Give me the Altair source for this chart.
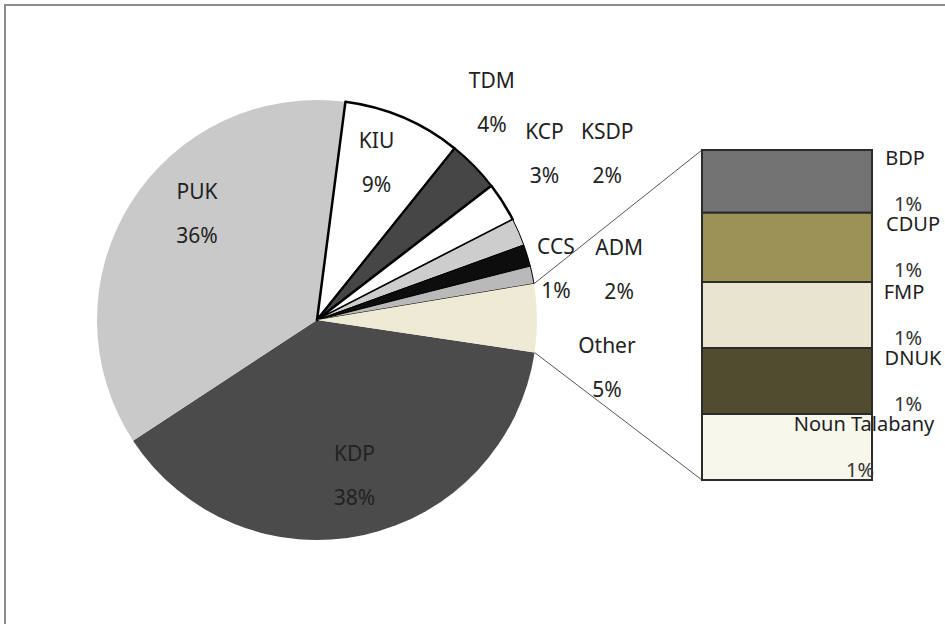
import math
import altair as alt
import pandas as pd

# ---------------- data ----------------
PIE_PARTIES = ["KDP", "PUK", "KIU", "TDM", "KCP", "KSDP", "ADM", "CCS", "Other"]
PIE_VALUES = [38.4, 36.3, 8.7, 3.8, 2.9, 2.0, 1.6, 1.3]          # "Other" = sum of the split-off parties
PIE_PCT = ["38%", "36%", "9%", "4%", "3%", "2%", "2%", "1%", "5%"]

SUB_PARTIES = ["BDP", "CDUP", "FMP", "DNUK", "Noun Talabany"]
SUB_VALUES = [0.95, 1.05, 1.0, 1.0, 1.0]
SUB_PCT = ["1%", "1%", "1%", "1%", "1%"]

# ---------------- styles / layout ----------------
PIE_FILL = ["#4b4b4b", "#c9c9c9", "#ffffff", "#464646", "#ffffff", "#cdcdcd", "#0d0d0d", "#b9b9b9", "#eeead6"]
PIE_STROKE_W = [0, 0, 2.5, 2, 2.5, 1, 1, 1, 0]
SUB_FILL = ["#727272", "#9c9257", "#e8e4cf", "#514b2f", "#f8f7ec"]

FONT = "Noto Sans"
CX, CY, R = 317, 320, 220
START_DEG = 98.5
BAR_X0, BAR_X1 = 702, 872
BAR_Y0, BAR_Y1 = 150, 480
LINE_H = 44

# label placement: (angle nudge in degrees from slice middle, radius in px)
PIE_LABEL_POS = {
    "KDP": (-1.1, 161), "PUK": (9.1, 159.5), "KIU": (-2.2, 167),
    "TDM": (-6.6, 278), "KCP": (-3.6, 281), "KSDP": (-6.1, 334),
    "ADM": (7.9, 306), "CCS": (0.1, 244), "Other": (10.1, 294),
}
SUB_NAME_X = [905, 913, 904, 913, 864]
SUB_PCT_X = [908, 908, 908, 908, 860]

# ---------------- tables ----------------
other_total = sum(SUB_VALUES)
pie_vals = PIE_VALUES + [other_total]
total = sum(pie_vals)
start = math.radians(START_DEG)

rows = []
cum = 0.0
for i, (p, v) in enumerate(zip(PIE_PARTIES, pie_vals)):
    mid_deg = START_DEG + 360.0 * (cum + v / 2) / total
    nudge, rad = PIE_LABEL_POS[p]
    rows.append({
        "idx": i, "party": p, "value": v, "fill": PIE_FILL[i], "sw": PIE_STROKE_W[i],
        "txt": p + "\n" + PIE_PCT[i],
        "lt": math.radians(mid_deg + nudge), "lr": rad,
        "a0": START_DEG + 360.0 * cum / total,
        "a1": START_DEG + 360.0 * (cum + v) / total,
    })
    cum += v
pie_df = pd.DataFrame(rows)

sub_rows = []
c = 0.0
for i, (p, v) in enumerate(zip(SUB_PARTIES, SUB_VALUES)):
    sub_rows.append({"idx": i, "party": p, "value": v, "fill": SUB_FILL[i],
                     "s0": c, "s1": c + v, "mid": c + v / 2,
                     "nx": SUB_NAME_X[i], "px": SUB_PCT_X[i], "pct": SUB_PCT[i]})
    c += v
sub_df = pd.DataFrame(sub_rows)

# connector end points on the pie rim, at the borders of the "Other" slice
orow = pie_df[pie_df["party"] == "Other"].iloc[0]
def rim(deg):
    a = math.radians(deg)
    return CX + R * math.sin(a), CY - R * math.cos(a)
p_top = rim(orow["a0"])
p_bot = rim(orow["a1"])

one = pd.DataFrame({"k": [0]})

frame = alt.Chart(one).mark_rect(fillOpacity=0, stroke="#8c8c8c", strokeWidth=2).encode(
    x=alt.value(5), y=alt.value(5), x2=alt.value(1000), y2=alt.value(700)
)

pie = alt.Chart(pie_df).mark_arc(outerRadius=R, stroke="#000000", strokeJoin="round").encode(
    x=alt.value(CX), y=alt.value(CY),
    theta=alt.Theta("value:Q", stack=True, scale=alt.Scale(range=[start, start + 2 * math.pi])),
    order=alt.Order("idx:Q"),
    fill=alt.Fill("fill:N", scale=None),
    strokeWidth=alt.StrokeWidth("sw:Q", scale=None),
)

conn1 = alt.Chart(one).mark_rule(color="#555555", strokeWidth=1).encode(
    x=alt.value(p_top[0]), y=alt.value(p_top[1]), x2=alt.value(BAR_X0), y2=alt.value(BAR_Y0)
)
conn2 = alt.Chart(one).mark_rule(color="#555555", strokeWidth=1).encode(
    x=alt.value(p_bot[0]), y=alt.value(p_bot[1]), x2=alt.value(BAR_X0), y2=alt.value(BAR_Y1)
)

yscale = alt.Scale(domain=[0, other_total], range=[BAR_Y0, BAR_Y1], nice=False, zero=True)

bar = alt.Chart(sub_df).mark_rect(stroke="#2b2b2b", strokeWidth=2).encode(
    x=alt.value(BAR_X0), x2=alt.value(BAR_X1),
    y=alt.Y("s0:Q", scale=yscale, axis=None),
    y2="s1:Q",
    fill=alt.Fill("fill:N", scale=None),
)

pie_text = alt.Chart(pie_df).mark_text(
    font=FONT, fontSize=21, lineBreak="\n", lineHeight=LINE_H, dy=-LINE_H / 2,
    align="center", baseline="middle", color="#222222"
).encode(
    x=alt.value(CX), y=alt.value(CY),
    theta=alt.Theta("lt:Q", scale=None),
    radius=alt.Radius("lr:Q", scale=None),
    text="txt:N",
)

bar_names = alt.Chart(sub_df).mark_text(
    font=FONT, fontSize=20, align="center", baseline="middle", dy=-22, color="#1e1e1e"
).encode(
    x=alt.X("nx:Q", scale=None, axis=None),
    y=alt.Y("mid:Q", scale=yscale, axis=None),
    text="party:N",
)
bar_pcts = alt.Chart(sub_df).mark_text(
    font=FONT, fontSize=20, align="center", baseline="middle", dy=24, color="#333333"
).encode(
    x=alt.X("px:Q", scale=None, axis=None),
    y=alt.Y("mid:Q", scale=yscale, axis=None),
    text="pct:N",
)

chart = alt.layer(
    frame, pie, conn1, conn2, bar, pie_text, bar_names, bar_pcts
).resolve_scale(
    theta="independent", radius="independent"
).properties(
    width=945, height=624, padding=0, autosize="none"
).configure_view(strokeWidth=0)

chart.save("out.html", embed_options={"renderer": "svg", "actions": False})
